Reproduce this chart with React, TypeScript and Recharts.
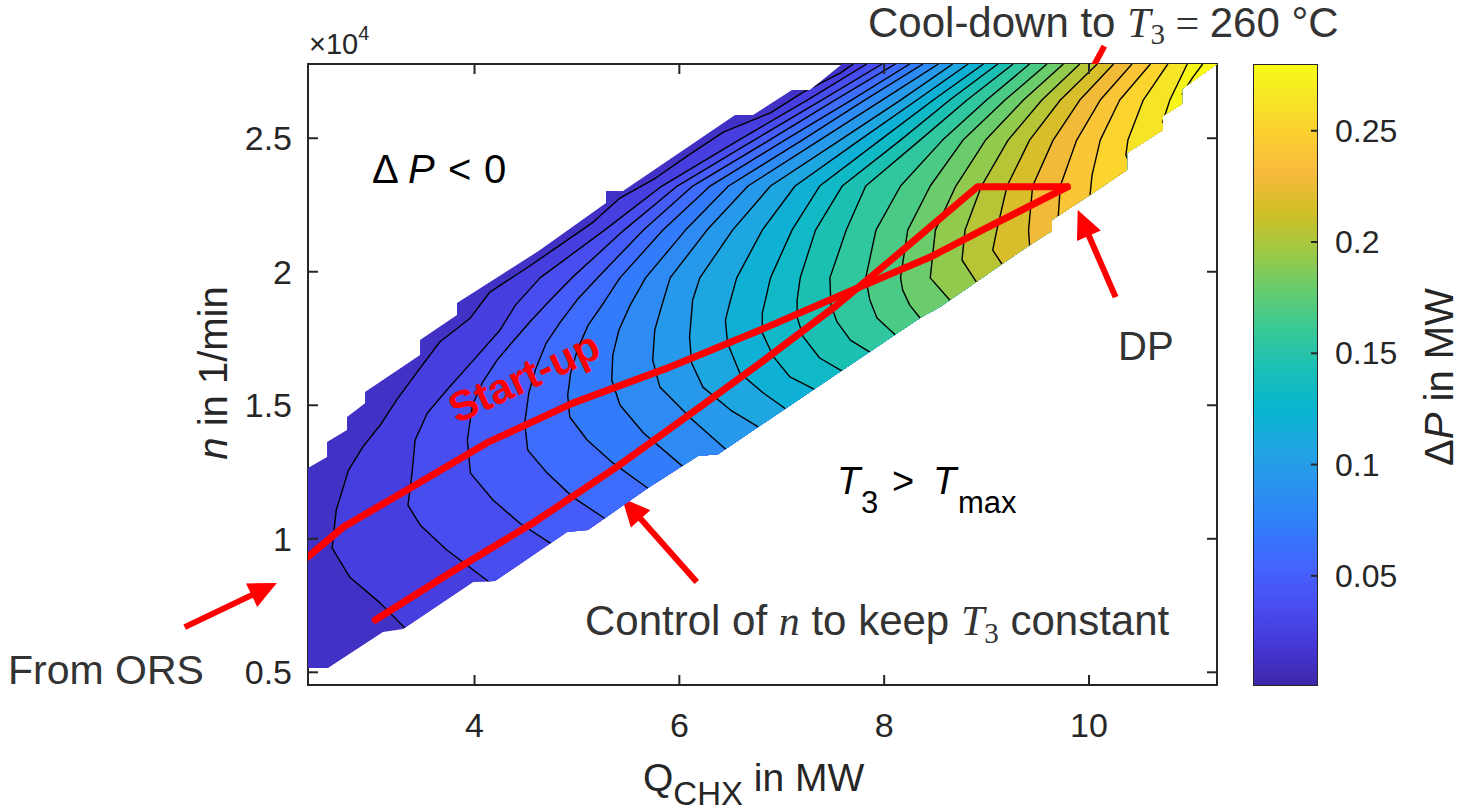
import React from 'react';
import { ComposedChart, Line, XAxis, YAxis, ReferenceLine, ReferenceArea } from 'recharts';

type Pt = [number, number];
type XY = { x: number; y: number };

// axis limits: Q_CHX in MW, n in 1e4 1/min; colour limits: ΔP in MW
const X_MIN = 2.374;
const X_MAX = 11.25;
const Y_MIN = 0.4524;
const Y_MAX = 2.778;
const C_MIN = 0.0005;
const C_MAX = 0.28;

const xTicks = [4, 6, 8, 10];
const yTicks = [0.5, 1, 1.5, 2, 2.5];
const cTicks = [0.05, 0.1, 0.15, 0.2, 0.25];

// ΔP contour levels (MW)
const levels = [
  0.012, 0.024, 0.036, 0.048, 0.06, 0.072, 0.084, 0.096, 0.108, 0.12, 0.132, 0.144,
  0.156, 0.168, 0.18, 0.192, 0.204, 0.216, 0.228, 0.24, 0.252, 0.264, 0.276,
];

// outline of the feasible operating field
const region: Pt[] = [
  [2.374, 0.516], [2.374, 1.265], [2.56, 1.306], [2.56, 1.362], [2.755, 1.407], [2.755, 1.456],
  [2.931, 1.508], [2.931, 1.55], [3.468, 1.688], [3.468, 1.744], [3.829, 1.838], [3.829, 1.883],
  [4.639, 2.081], [5.284, 2.257], [5.284, 2.302], [5.45, 2.302], [6.544, 2.587], [6.72, 2.587],
  [7.1, 2.681], [7.276, 2.681], [7.589, 2.778], [11.25, 2.778], [10.909, 2.684], [10.909, 2.628],
  [10.723, 2.583], [10.723, 2.531], [10.372, 2.445], [10.372, 2.381], [10.01, 2.287], [9.639, 2.194],
  [9.639, 2.153], [9.395, 2.093], [8.545, 1.868], [8.35, 1.827], [7.305, 1.557], [6.378, 1.317],
  [6.182, 1.31], [5.694, 1.19], [5.108, 1.033], [4.903, 1.025], [4.2, 0.842], [3.985, 0.838],
  [3.302, 0.662], [3.106, 0.651], [2.569, 0.516],
];

// contour lines, traced from the top edge down to the lower boundary
const c01: Pt[] = [
  [7.7, 2.778], [7.57, 2.744], [7.21, 2.673], [6.89, 2.595], [6.43, 2.523], [6.09, 2.437],
  [5.77, 2.351], [5.42, 2.276], [5.16, 2.186], [4.81, 2.093], [4.51, 2.014], [4.15, 1.924],
  [3.96, 1.827], [3.66, 1.737], [3.44, 1.624], [3.24, 1.52], [3.08, 1.426], [2.91, 1.344],
  [2.77, 1.257], [2.65, 1.108], [2.61, 0.965], [2.78, 0.857], [3.08, 0.759], [3.32, 0.666], [3.37, 0.647],
];
const c02: Pt[] = [
  [7.83, 2.778], [7.25, 2.643], [6.58, 2.493], [5.83, 2.321], [5.27, 2.156], [4.64, 1.977],
  [4.4, 1.875], [4.25, 1.782], [3.99, 1.669], [3.73, 1.557], [3.54, 1.471], [3.42, 1.37],
  [3.39, 1.246], [3.35, 1.126], [3.47, 1.051], [3.73, 0.958], [4.13, 0.842], [4.18, 0.825],
];
const c03: Pt[] = [
  [7.98, 2.778], [7.39, 2.643], [6.73, 2.493], [5.98, 2.321], [5.46, 2.156], [4.95, 1.977],
  [4.74, 1.894], [4.54, 1.812], [4.37, 1.737], [4.22, 1.669], [4.08, 1.587], [3.98, 1.501],
  [3.93, 1.37], [3.96, 1.246], [4.18, 1.145], [4.44, 1.059], [4.74, 0.984], [4.79, 0.968],
];
const c04: Pt[] = [
  [8.11, 2.778], [7.52, 2.643], [6.88, 2.493], [6.13, 2.321], [5.65, 2.156], [5.2, 1.977],
  [5.0, 1.894], [4.84, 1.812], [4.7, 1.733], [4.6, 1.639], [4.53, 1.546], [4.49, 1.433],
  [4.52, 1.332], [4.71, 1.246], [4.96, 1.156], [5.28, 1.074], [5.32, 1.062],
];
const c05: Pt[] = [
  [8.25, 2.778], [7.68, 2.643], [7.03, 2.493], [6.3, 2.321], [5.84, 2.156], [5.42, 1.977],
  [5.26, 1.883], [5.11, 1.8], [5.01, 1.714], [4.94, 1.624], [4.91, 1.538], [4.93, 1.456],
  [5.1, 1.37], [5.35, 1.284], [5.69, 1.19], [5.73, 1.179],
];
const c06: Pt[] = [
  [8.38, 2.778], [7.81, 2.643], [7.2, 2.493], [6.48, 2.321], [6.06, 2.156], [5.67, 1.977],
  [5.52, 1.875], [5.41, 1.782], [5.35, 1.688], [5.34, 1.595], [5.42, 1.501], [5.65, 1.396],
  [6.03, 1.272], [6.07, 1.26],
];
const c07: Pt[] = [
  [8.53, 2.778], [7.98, 2.643], [7.37, 2.493], [6.67, 2.321], [6.27, 2.156], [5.91, 1.977],
  [5.83, 1.875], [5.76, 1.782], [5.74, 1.669], [5.81, 1.568], [6.13, 1.445], [6.45, 1.336], [6.49, 1.322],
];
const c08: Pt[] = [
  [8.67, 2.778], [8.16, 2.643], [7.57, 2.493], [6.89, 2.321], [6.52, 2.156], [6.2, 1.977],
  [6.13, 1.894], [6.1, 1.756], [6.12, 1.658], [6.23, 1.568], [6.5, 1.482], [6.77, 1.419], [6.81, 1.404],
];
const c09: Pt[] = [
  [8.82, 2.778], [8.32, 2.643], [7.76, 2.493], [7.13, 2.321], [6.81, 2.156], [6.56, 1.977],
  [6.5, 1.894], [6.45, 1.819], [6.47, 1.733], [6.59, 1.621], [6.82, 1.546], [7.04, 1.486], [7.08, 1.475],
];
const c10: Pt[] = [
  [8.97, 2.778], [8.48, 2.643], [7.96, 2.493], [7.37, 2.321], [7.1, 2.156], [6.89, 1.977],
  [6.84, 1.894], [6.81, 1.845], [6.81, 1.771], [6.92, 1.681], [7.08, 1.606], [7.31, 1.561], [7.34, 1.55],
];
const c11: Pt[] = [
  [9.11, 2.778], [8.64, 2.643], [8.16, 2.493], [7.59, 2.321], [7.33, 2.156], [7.18, 1.977],
  [7.15, 1.894], [7.15, 1.83], [7.21, 1.756], [7.37, 1.677], [7.59, 1.628], [7.63, 1.617],
];
const c12: Pt[] = [
  [9.26, 2.778], [8.81, 2.643], [8.35, 2.493], [7.82, 2.321], [7.63, 2.156], [7.47, 1.977],
  [7.48, 1.875], [7.54, 1.812], [7.67, 1.744], [7.86, 1.699], [7.9, 1.688],
];
const c13: Pt[] = [
  [9.42, 2.778], [9.0, 2.643], [8.57, 2.493], [8.16, 2.321], [7.92, 2.156], [7.82, 1.977],
  [7.86, 1.894], [7.93, 1.827], [8.11, 1.763], [8.15, 1.752],
];
const c14: Pt[] = [
  [9.59, 2.778], [9.18, 2.643], [8.77, 2.493], [8.45, 2.321], [8.23, 2.156], [8.16, 1.977],
  [8.18, 1.932], [8.25, 1.875], [8.35, 1.827], [8.38, 1.815],
];
const c15: Pt[] = [
  [9.75, 2.778], [9.36, 2.643], [8.99, 2.493], [8.7, 2.321], [8.5, 2.156], [8.45, 1.977], [8.64, 1.894], [8.68, 1.879],
];
const c16: Pt[] = [
  [9.91, 2.778], [9.54, 2.643], [9.21, 2.493], [8.95, 2.321], [8.79, 2.156], [8.76, 2.044], [8.9, 1.962], [8.94, 1.947],
];
const c17: Pt[] = [
  [10.08, 2.778], [9.72, 2.643], [9.42, 2.493], [9.2, 2.321], [9.1, 2.156], [9.06, 2.081], [9.15, 2.029], [9.19, 2.014],
];
const c18: Pt[] = [
  [10.24, 2.778], [9.91, 2.643], [9.65, 2.493], [9.45, 2.321], [9.41, 2.156], [9.42, 2.1], [9.43, 2.081],
];
const c19: Pt[] = [[10.42, 2.778], [10.11, 2.643], [9.88, 2.493], [9.72, 2.321], [9.7, 2.209], [9.7, 2.19]];
const c20: Pt[] = [[10.6, 2.778], [10.3, 2.643], [10.11, 2.493], [10.03, 2.362], [10.01, 2.287], [10.01, 2.269]];
const c21: Pt[] = [[10.77, 2.778], [10.53, 2.643], [10.38, 2.493], [10.36, 2.437], [10.4, 2.4]];
const c22: Pt[] = [[10.96, 2.778], [10.79, 2.643], [10.72, 2.561], [10.75, 2.546]];
const c23: Pt[] = [[11.11, 2.778], [11.01, 2.726], [10.91, 2.666], [10.94, 2.651]];

const contourLines = [
  c01, c02, c03, c04, c05, c06, c07, c08, c09, c10, c11, c12,
  c13, c14, c15, c16, c17, c18, c19, c20, c21, c22, c23,
];

// operating paths
const startUp: Pt[] = [
  [2.374, 0.932], [2.72, 1.044], [3.34, 1.183], [4.12, 1.359], [4.96, 1.508], [5.88, 1.639],
  [6.79, 1.782], [7.74, 1.939], [8.45, 2.055], [9.0, 2.164], [9.79, 2.318],
];
const controlN: Pt[] = [
  [3.03, 0.696], [3.76, 0.872], [4.57, 1.059], [5.39, 1.269], [6.2, 1.493], [6.79, 1.658],
  [7.54, 1.875], [8.16, 2.074], [8.91, 2.318], [9.79, 2.318],
];

// annotation arrows, tail then head
const arrowFromOrs: Pt[] = [[1.17, 0.669], [2.07, 0.834]];
const arrowControl: Pt[] = [[6.17, 0.838], [5.44, 1.153]];
const arrowDp: Pt[] = [[10.26, 1.905], [9.89, 2.231]];
const arrowCoolDown: Pt[] = [[10.15, 2.845], [9.54, 2.411]];

// colour bar outline (x across the bar, y in ΔP)
const colourBar: Pt[] = [[0, C_MIN], [1, C_MIN], [1, C_MAX], [0, C_MAX]];

const W = 1468;
const H = 812;
const PLOT_W = 909;
const PLOT_H = 621;
const AXIS = '#262626';
const RED = '#ff0000';
const FONT = '"Liberation Sans", Arial, Helvetica, sans-serif';
const SERIF = '"Liberation Serif", "Times New Roman", serif';

// MATLAB parula, sampled from the 64-entry table
const parulaStops: number[][] = [
  [0 / 63, 0.2422, 0.1504, 0.6603],
  [4 / 63, 0.2706, 0.2147, 0.8364],
  [8 / 63, 0.2813, 0.3006, 0.9414],
  [12 / 63, 0.2699, 0.3892, 0.9906],
  [16 / 63, 0.1963, 0.4847, 0.9892],
  [20 / 63, 0.1687, 0.5703, 0.9359],
  [24 / 63, 0.1248, 0.6459, 0.8883],
  [28 / 63, 0.0297, 0.7082, 0.8163],
  [32 / 63, 0.0964, 0.75, 0.712],
  [36 / 63, 0.2161, 0.7843, 0.5923],
  [40 / 63, 0.3909, 0.8029, 0.4354],
  [44 / 63, 0.6174, 0.7876, 0.2612],
  [48 / 63, 0.8203, 0.7498, 0.1535],
  [52 / 63, 0.9728, 0.7298, 0.2394],
  [56 / 63, 0.9892, 0.8136, 0.1885],
  [60 / 63, 0.9597, 0.9135, 0.1423],
  [63 / 63, 0.9769, 0.9839, 0.0805],
];

function parula(t: number): string {
  const u = Math.min(1, Math.max(0, t));
  let i = 0;
  while (i < parulaStops.length - 2 && u > parulaStops[i + 1][0]) i++;
  const a = parulaStops[i];
  const b = parulaStops[i + 1];
  const f = (u - a[0]) / (b[0] - a[0]);
  const ch = (k: number) => Math.round(255 * (a[k] + (b[k] - a[k]) * f));
  return `rgb(${ch(1)},${ch(2)},${ch(3)})`;
}

// a band between two contour lines takes the colour of its upper level
const bandColor = (k: number) =>
  parula(((k < levels.length ? levels[k] : C_MAX) - C_MIN) / (C_MAX - C_MIN));

const toXY = (pts: Pt[]): XY[] => pts.map(([x, y]) => ({ x, y }));

const pathD = (pts: XY[], close: boolean) =>
  pts.map((p, i) => `${i === 0 ? 'M' : 'L'}${p.x.toFixed(2)},${p.y.toFixed(2)}`).join(' ') + (close ? ' Z' : '');

// collects the pixel positions of a series and draws one path when the last point comes in
function traced(count: number, draw: (pts: XY[]) => React.ReactElement) {
  let buf: XY[] = [];
  return (props: any) => {
    const { index, cx, cy } = props;
    if (index === 0) buf = [];
    buf.push({ x: cx, y: cy });
    if (index === count - 1) return <g key={`shape-${index}`}>{draw(buf.slice())}</g>;
    return <g key={`pt-${index}`} />;
  };
}

const shapeSeries = (id: string, pts: Pt[], draw: (p: XY[]) => React.ReactElement) => {
  const data = toXY(pts);
  return (
    <Line
      key={id}
      data={data}
      dataKey="y"
      stroke="none"
      legendType="none"
      activeDot={false}
      isAnimationActive={false}
      dot={traced(data.length, draw)}
    />
  );
};

const Arrow = (props: any) => {
  const { x1, y1, x2, y2 } = props;
  const dx = x2 - x1;
  const dy = y2 - y1;
  const len = Math.hypot(dx, dy) || 1;
  const ux = dx / len;
  const uy = dy / len;
  const hl = 28;
  const hw = 13;
  const bx = x2 - ux * hl;
  const by = y2 - uy * hl;
  return (
    <g>
      <line x1={x1} y1={y1} x2={bx + ux * 3} y2={by + uy * 3} stroke={RED} strokeWidth={6} />
      <polygon
        points={`${x2},${y2} ${bx - uy * hw},${by + ux * hw} ${bx + uy * hw},${by - ux * hw}`}
        fill={RED}
      />
    </g>
  );
};

const XTick = ({ x, y, payload }: any) => (
  <g>
    <line x1={x} y1={y} x2={x} y2={y - 10} stroke={AXIS} strokeWidth={2} />
    <line x1={x} y1={y - PLOT_H} x2={x} y2={y - PLOT_H + 10} stroke={AXIS} strokeWidth={2} />
    <text x={x} y={y + 52} textAnchor="middle" fontSize={34} fill={AXIS} fontFamily={FONT}>
      {payload.value}
    </text>
  </g>
);

const YTick = ({ x, y, payload }: any) => (
  <g>
    <line x1={x} y1={y} x2={x + 10} y2={y} stroke={AXIS} strokeWidth={2} />
    <line x1={x + PLOT_W} y1={y} x2={x + PLOT_W - 10} y2={y} stroke={AXIS} strokeWidth={2} />
    <text x={x - 16} y={y + 12} textAnchor="end" fontSize={34} fill={AXIS} fontFamily={FONT}>
      {payload.value}
    </text>
  </g>
);

const CTick = ({ x, y, payload }: any) => (
  <g>
    <line x1={x - 7} y1={y} x2={x} y2={y} stroke={AXIS} strokeWidth={2} />
    <text x={x + 17} y={y + 11} fontSize={32} fill={AXIS} fontFamily={FONT}>
      {payload.value}
    </text>
  </g>
);

const seg = (a: Pt[]) => [{ x: a[0][0], y: a[0][1] }, { x: a[1][0], y: a[1][1] }];

export default function App() {
  const bands = contourLines.map((line, i) =>
    shapeSeries(`band-${i}`, [...line, [X_MAX, Y_MIN], [X_MAX, Y_MAX]], (p) => (
      <path d={pathD(p, true)} fill={bandColor(i + 1)} stroke="none" clipPath="url(#dp-region)" />
    ))
  );
  const strokes = contourLines.map((line, i) =>
    shapeSeries(`line-${i}`, line, (p) => (
      <path d={pathD(p, false)} fill="none" stroke="#000" strokeWidth={1.4} strokeLinejoin="round" clipPath="url(#dp-region)" />
    ))
  );
  const redPath = (p: XY[]) => (
    <path d={pathD(p, false)} fill="none" stroke={RED} strokeWidth={7} strokeLinejoin="round" strokeLinecap="round" />
  );

  return (
    <div style={{ position: 'absolute', left: 0, top: 0, width: W, height: H, background: '#fff', fontFamily: FONT }}>
      <div style={{ position: 'absolute', left: 0, top: 0 }}>
        <ComposedChart width={W} height={H} margin={{ top: 64, right: 251, bottom: 97, left: 278 }}>
          {shapeSeries('region', region, (p) => (
            <>
              <defs>
                <clipPath id="dp-region">
                  <path d={pathD(p, true)} />
                </clipPath>
              </defs>
              <path d={pathD(p, true)} fill={bandColor(0)} stroke="none" />
            </>
          ))}
          {bands}
          {strokes}
          {shapeSeries('start-up', startUp, redPath)}
          {shapeSeries('control-n', controlN, redPath)}
          <XAxis
            type="number"
            dataKey="x"
            domain={[X_MIN, X_MAX]}
            ticks={xTicks}
            allowDataOverflow
            height={30}
            axisLine={false}
            tickLine={false}
            tickSize={0}
            tickMargin={0}
            interval={0}
            tick={(p: any) => <XTick {...p} />}
          />
          <YAxis
            type="number"
            domain={[Y_MIN, Y_MAX]}
            ticks={yTicks}
            allowDataOverflow
            width={30}
            axisLine={false}
            tickLine={false}
            tickSize={0}
            tickMargin={0}
            interval={0}
            tick={(p: any) => <YTick {...p} />}
          />
          <ReferenceArea
            x1={X_MIN}
            x2={X_MAX}
            y1={Y_MIN}
            y2={Y_MAX}
            fill="none"
            fillOpacity={0}
            stroke={AXIS}
            strokeWidth={2}
            ifOverflow="visible"
          />
          {[arrowFromOrs, arrowControl, arrowDp, arrowCoolDown].map((a, i) => (
            <ReferenceLine key={`arrow-${i}`} segment={seg(a)} ifOverflow="visible" shape={(p: any) => <Arrow {...p} />} />
          ))}
        </ComposedChart>
      </div>

      {/* colour bar */}
      <div style={{ position: 'absolute', left: 0, top: 0 }}>
        <ComposedChart width={W} height={H} margin={{ top: 64, right: 120, bottom: 126, left: 1253 }}>
          <defs>
            <linearGradient id="parula-bar" x1="0" y1="1" x2="0" y2="0">
              {parulaStops.map((s, i) => (
                <stop key={i} offset={s[0]} stopColor={parula(s[0])} />
              ))}
            </linearGradient>
          </defs>
          {shapeSeries('colour-bar', colourBar, (p) => (
            <path d={pathD(p, true)} fill="url(#parula-bar)" stroke={AXIS} strokeWidth={2} />
          ))}
          <XAxis type="number" dataKey="x" domain={[0, 1]} allowDataOverflow hide />
          <YAxis
            type="number"
            orientation="right"
            domain={[C_MIN, C_MAX]}
            ticks={cTicks}
            allowDataOverflow
            width={30}
            axisLine={false}
            tickLine={false}
            tickSize={0}
            tickMargin={0}
            interval={0}
            tick={(p: any) => <CTick {...p} />}
          />
        </ComposedChart>
      </div>

      {/* labels and annotations */}
      <svg width={W} height={H} style={{ position: 'absolute', left: 0, top: 0, pointerEvents: 'none' }} fontFamily={FONT}>
        <text x={309} y={54} fontSize={29} fill={AXIS}>
          ×10<tspan dy={-14} fontSize={20}>4</tspan>
        </text>
        <text transform="translate(227,373) rotate(-90)" textAnchor="middle" fontSize={40} fill={AXIS}>
          <tspan fontStyle="italic">n</tspan> in 1/min
        </text>
        <text x={643} y={791} fontSize={39} fill={AXIS}>
          Q<tspan fontSize={33} dy={14}>CHX</tspan>
          <tspan dy={-14}> in MW</tspan>
        </text>
        <text transform="translate(1453,377) rotate(-90)" textAnchor="middle" fontSize={40} fill={AXIS}>
          Δ<tspan fontStyle="italic">P</tspan> in MW
        </text>

        <text y={183} fontSize={40} fill="#000">
          <tspan x={372}>Δ</tspan>
          <tspan x={408} fontStyle="italic">P</tspan>
          <tspan x={448}>{'<'}</tspan>
          <tspan x={484}>0</tspan>
        </text>
        <text y={494} fontSize={38} fill="#000">
          <tspan x={837} fontStyle="italic">T</tspan>
          <tspan x={861} dy={19} fontSize={31}>3</tspan>
          <tspan x={892} dy={-19}>{'>'}</tspan>
          <tspan x={933} fontStyle="italic">T</tspan>
          <tspan x={958} dy={19} fontSize={31}>max</tspan>
        </text>
        <text transform="translate(530,390) rotate(-25)" textAnchor="middle" fontSize={42} fontWeight="bold" fill={RED}>
          Start-up
        </text>
        <text x={585} y={635} fontSize={42} fill="#333">
          Control of <tspan fontFamily={SERIF} fontStyle="italic">n</tspan> to keep{' '}
          <tspan fontFamily={SERIF} fontStyle="italic">T</tspan>
          <tspan fontFamily={SERIF} fontSize={29} dy={8}>3</tspan>
          <tspan dy={-8}> constant</tspan>
        </text>
        <text x={868} y={37} fontSize={42} fill="#333">
          Cool-down to <tspan fontFamily={SERIF} fontStyle="italic">T</tspan>
          <tspan fontFamily={SERIF} fontSize={29} dy={7}>3</tspan>
          <tspan fontFamily={SERIF} dy={-7}> = </tspan>
          <tspan>260 °C</tspan>
        </text>
        <text x={1118} y={360} fontSize={40} fill="#333">DP</text>
        <text x={8} y={684} fontSize={41} fill="#333">From ORS</text>
      </svg>
    </div>
  );
}
